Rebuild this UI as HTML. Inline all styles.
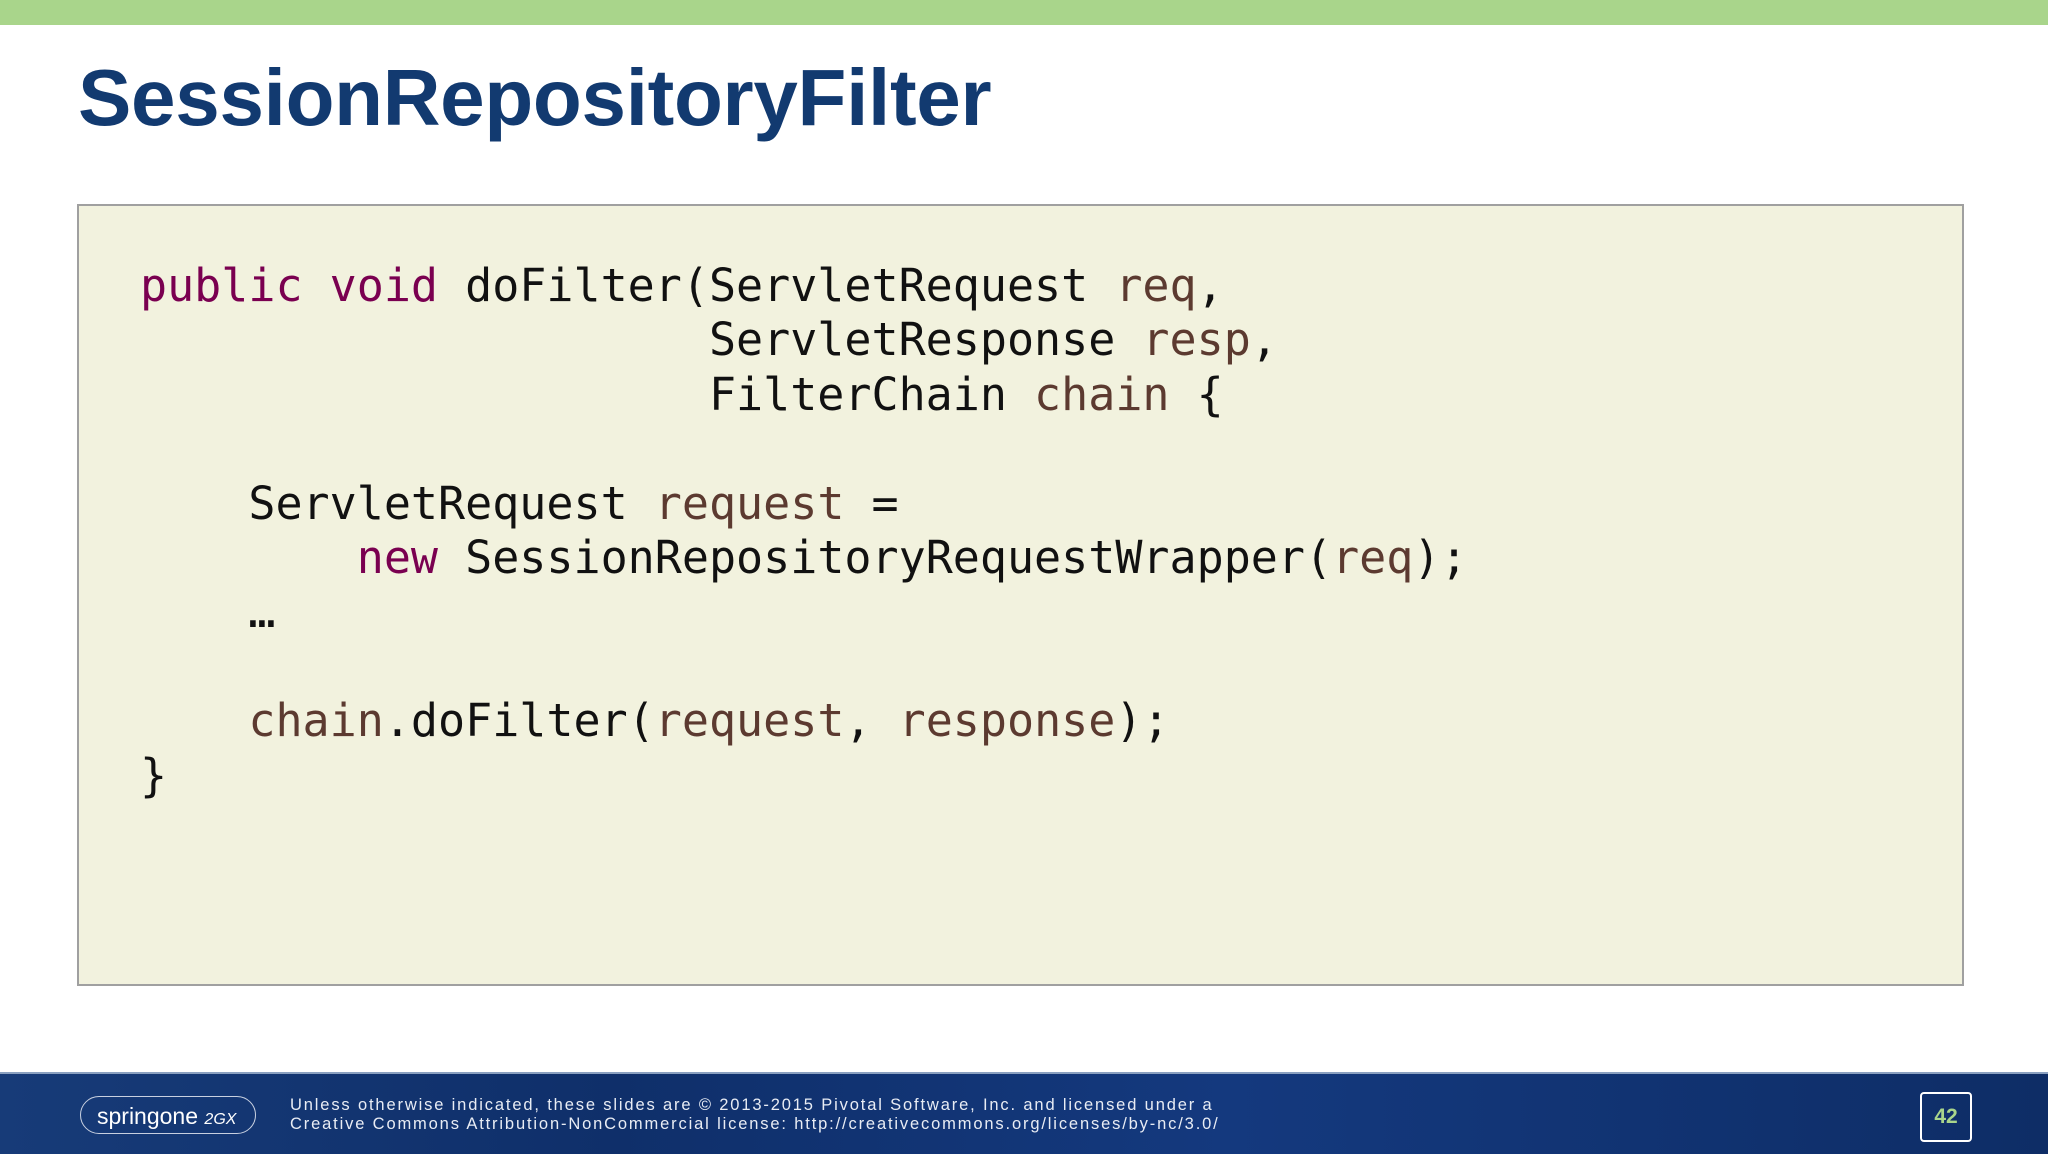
<!DOCTYPE html>
<html><head><meta charset="utf-8"><style>
*{margin:0;padding:0}
body{width:2048px;height:1152px;position:relative;background:#fff;overflow:hidden;font-family:"Liberation Sans",sans-serif}
#top{position:absolute;left:0;top:0;width:2048px;height:25px;background:#a9d58b}
#title{position:absolute;left:78px;top:52px;font-size:80px;font-weight:bold;color:#123a70;letter-spacing:-0.3px}
#box{position:absolute;left:77px;top:204px;width:1883px;height:778px;background:#f2f2de;border:2px solid #a0a0a0}
pre{position:absolute;left:140px;top:259px;font-family:"DejaVu Sans Mono",monospace;font-size:45px;line-height:54.4px;color:#111}
.k{color:#7a0050}.v{color:#5c3a30}
#foot{position:absolute;left:0;top:1072px;width:2048px;height:80px;background:linear-gradient(90deg,#173b78,#0f2f6a 30%,#14397e 60%,#0e2d66);border-top:2px solid #8aa0c0}
#logo{position:absolute;left:80px;top:22px;width:176px;height:38px;border:1.5px solid #c8d0e0;border-radius:20px;color:#fff;font-size:23px;line-height:38px;padding-left:16px;box-sizing:border-box}
#lic{position:absolute;left:290px;top:22px;color:#e8ecf4;font-size:16.5px;line-height:19px;letter-spacing:1.85px}
#num{position:absolute;left:1920px;top:18px;width:48px;height:46px;border:2px solid #fff;border-radius:4px;color:#a9d58b;font-size:21px;font-weight:bold;text-align:center;line-height:46px}
</style></head><body>
<div id="top"></div>
<div id="title">SessionRepositoryFilter</div>
<div id="box"></div>
<pre><span class="k">public void</span> doFilter(ServletRequest <span class="v">req</span>,
                     ServletResponse <span class="v">resp</span>,
                     FilterChain <span class="v">chain</span> {

    ServletRequest <span class="v">request</span> =
        <span class="k">new</span> SessionRepositoryRequestWrapper(<span class="v">req</span>);
    …

    <span class="v">chain</span>.doFilter(<span class="v">request</span>, <span class="v">response</span>);
}</pre>
<div id="foot">
<div id="logo">springone <i style="font-size:16px">2GX</i></div>
<div id="lic">Unless otherwise indicated, these slides are © 2013-2015 Pivotal Software, Inc. and licensed under a<br>Creative Commons Attribution-NonCommercial license: http://creativecommons.org/licenses/by-nc/3.0/</div>
<div id="num">42</div>
</div>
</body></html>
